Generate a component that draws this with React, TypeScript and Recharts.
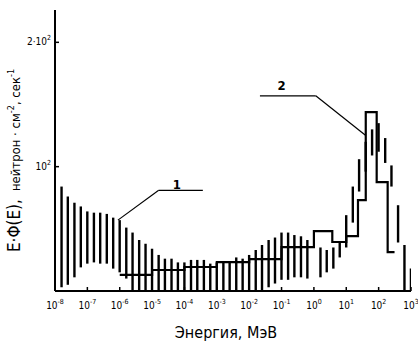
import React from "react";
import {
  ComposedChart,
  Bar,
  Line,
  XAxis,
  YAxis,
  ReferenceLine,
  ReferenceDot,
} from "recharts";

// energy grid of the vertical bars (MeV)
const barEnergy = [
  1.6e-8, 2.5e-8, 4e-8, 6.3e-8, 1e-7, 1.6e-7, 2.5e-7, 4e-7, 6.3e-7, 1e-6,
  1.6e-6, 2.5e-6, 4e-6, 6.3e-6, 1e-5, 1.6e-5, 2.5e-5, 4e-5, 6.3e-5, 1e-4,
  1.6e-4, 2.5e-4, 4e-4, 6.3e-4, 1e-3, 1.6e-3, 2.5e-3, 4e-3, 6.3e-3, 1e-2,
  1.6e-2, 2.5e-2, 4e-2, 6.3e-2, 0.1, 0.16, 0.25, 0.4, 0.63, 1.6,
  2.5, 4, 6.3, 10, 16, 25, 40, 63, 100, 160,
  250, 400, 630, 1000,
];
const barHigh = [
  84, 76, 71, 68, 64, 63, 63, 62, 59, 57,
  51, 47, 41, 38, 34, 29, 26, 26, 23, 23,
  25, 25, 25, 22, 23, 23, 23, 27, 26, 29,
  33, 37, 41, 43, 47, 47, 45, 44, 41, 35,
  33, 35, 39, 61, 84, 106, 120, 130, 135, 123,
  101, 69, 37, 18,
];
const barLow = [
  3, 5, 11, 19, 22, 23, 22, 22, 18, 15,
  10, 0, 0, 0, 0, 0, 0, 0, 0, 0,
  0, 0, 0, 0, 0, 0, 0, 0, 0, 0,
  0, 0, 3, 6, 9, 9, 11, 11, 10, 11,
  15, 18, 27, 35, 55, 80, 96, 109, 112, 103,
  84, 39, 0, 0,
];

// histogram (curve 2): left edges of the bins and their levels
const stepEnergy = [1e-6, 1e-5, 1e-4, 1e-3, 1e-2, 0.1, 1, 3.7, 10, 23, 40, 87, 190, 310];
const stepValue = [12.9, 16.9, 19.3, 23.3, 25.7, 35.3, 48.2, 39.4, 44.2, 73.1, 143.8, 87.6, 31.3, 31.3];

const xTicks = [1e-8, 1e-7, 1e-6, 1e-5, 1e-4, 1e-3, 1e-2, 1e-1, 1, 10, 100, 1000];
const yTicks = [100, 200];
const yTickText = ["10", "2·10"];

const barData = barEnergy.map((e, i) => ({ e, range: [barLow[i], barHigh[i]] }));
const stepData = stepEnergy.map((e, i) => ({ e, v: stepValue[i] }));

const FONT = "'DejaVu Sans Condensed', 'Liberation Sans Narrow', sans-serif";

// each range is drawn as a thick vertical stroke at the bar's centre
const RangeStroke = (props: any) => {
  const { x, y, width, height } = props;
  if (x == null || y == null) return null;
  const cx = x + width / 2;
  return <line x1={cx} x2={cx} y1={y} y2={y + height} stroke="#000" strokeWidth={2.4} />;
};

const BottomTick = ({ x, y, payload }: any) => {
  const exp = Math.round(Math.log10(payload.value));
  return (
    <g>
      <line x1={x} x2={x} y1={y - 8} y2={y - 12} stroke="#000" strokeWidth={1.5} />
      <text x={x} y={y + 10} textAnchor="middle" fontSize={10} fontFamily={FONT} fill="#000">
        10<tspan dy={-5} fontSize={7}>{exp}</tspan>
      </text>
    </g>
  );
};

const TopTick = ({ x, y }: any) => (
  <line x1={x} x2={x} y1={y + 8} y2={y + 12} stroke="#000" strokeWidth={1.5} />
);

const LeftTick = ({ x, y, payload }: any) => {
  const idx = yTicks.indexOf(payload.value);
  return (
    <g>
      <line x1={x + 8} x2={x + 12} y1={y} y2={y} stroke="#000" strokeWidth={1.5} />
      <text x={x + 4} y={y + 3} textAnchor="end" fontSize={10} fontFamily={FONT} fill="#000">
        {yTickText[idx]}
        <tspan dy={-5} fontSize={7}>2</tspan>
      </text>
    </g>
  );
};

const RightTick = ({ x, y }: any) => (
  <line x1={x - 8} x2={x - 12} y1={y} y2={y} stroke="#000" strokeWidth={1.5} />
);

const YLabel = ({ viewBox }: any) => {
  const cx = 20;
  const cy = viewBox.y + viewBox.height / 2 + 10;
  return (
    <text
      x={cx}
      y={cy}
      transform={`rotate(-90, ${cx}, ${cy})`}
      textAnchor="middle"
      fontFamily={FONT}
      fill="#000"
      fontSize={13}
    >
      <tspan fontSize={17}>E·Φ(E),</tspan>
      <tspan dx={8}>нейтрон · см</tspan>
      <tspan dy={-6} fontSize={9}>-2</tspan>
      <tspan dy={6}>, сек</tspan>
      <tspan dy={-6} fontSize={9}>-1</tspan>
    </text>
  );
};

export default function App() {
  return (
    <div style={{ position: "absolute", left: 0, top: 0, background: "#fff" }}>
      <ComposedChart
        width={418}
        height={343}
        data={barData}
        margin={{ top: 10, right: 7, bottom: 0, left: 0 }}
      >
        <XAxis
          xAxisId="bottom"
          dataKey="e"
          type="number"
          scale="log"
          domain={[1e-8, 1e3]}
          allowDataOverflow
          ticks={xTicks}
          interval={0}
          tick={<BottomTick />}
          tickLine={false}
          axisLine={{ stroke: "#000", strokeWidth: 2 }}
          height={52}
          label={{
            value: "Энергия, МэВ",
            position: "insideBottom",
            offset: 5,
            dx: -7,
            fontSize: 16,
            fontFamily: FONT,
            fill: "#000",
          }}
        />
        <XAxis
          xAxisId="top"
          orientation="top"
          dataKey="e"
          type="number"
          scale="log"
          domain={[1e-8, 1e3]}
          allowDataOverflow
          ticks={xTicks}
          interval={0}
          tick={<TopTick />}
          tickLine={false}
          axisLine={{ stroke: "#000", strokeWidth: 2 }}
          height={0}
        />
        <YAxis
          yAxisId="left"
          type="number"
          domain={[0, 226]}
          allowDataOverflow
          ticks={yTicks}
          interval={0}
          tick={<LeftTick />}
          tickLine={false}
          axisLine={{ stroke: "#000", strokeWidth: 2 }}
          width={55}
          label={{ content: <YLabel /> }}
        />
        <YAxis
          yAxisId="right"
          orientation="right"
          type="number"
          domain={[0, 226]}
          allowDataOverflow
          ticks={yTicks}
          interval={0}
          tick={<RightTick />}
          tickLine={false}
          axisLine={{ stroke: "#000", strokeWidth: 1.5 }}
          width={0}
        />
        <Bar
          xAxisId="bottom"
          yAxisId="left"
          dataKey="range"
          fill="#000"
          barSize={3}
          shape={<RangeStroke />}
          isAnimationActive={false}
        />
        <Line
          xAxisId="bottom"
          yAxisId="left"
          data={stepData}
          dataKey="v"
          type="stepAfter"
          stroke="#000"
          strokeWidth={2.2}
          dot={false}
          isAnimationActive={false}
        />
        <ReferenceLine
          xAxisId="bottom"
          yAxisId="left"
          segment={[{ x: 8.8e-7, y: 57 }, { x: 1.6e-5, y: 81 }]}
          stroke="#000"
          strokeWidth={1.2}
        />
        <ReferenceLine
          xAxisId="bottom"
          yAxisId="left"
          segment={[{ x: 1.6e-5, y: 81 }, { x: 3.7e-4, y: 81 }]}
          stroke="#000"
          strokeWidth={1.2}
        />
        <ReferenceLine
          xAxisId="bottom"
          yAxisId="left"
          segment={[{ x: 40, y: 125 }, { x: 1.14, y: 157 }]}
          stroke="#000"
          strokeWidth={1.2}
        />
        <ReferenceLine
          xAxisId="bottom"
          yAxisId="left"
          segment={[{ x: 1.14, y: 157 }, { x: 0.0215, y: 157 }]}
          stroke="#000"
          strokeWidth={1.2}
        />
        <ReferenceDot
          xAxisId="bottom"
          yAxisId="left"
          x={5.8e-5}
          y={86}
          r={0}
          label={{ value: "1", position: "center", fontSize: 13, fontFamily: FONT, fill: "#000", fontWeight: "bold" }}
        />
        <ReferenceDot
          xAxisId="bottom"
          yAxisId="left"
          x={0.1}
          y={165}
          r={0}
          label={{ value: "2", position: "center", fontSize: 13, fontFamily: FONT, fill: "#000", fontWeight: "bold" }}
        />
      </ComposedChart>
    </div>
  );
}
